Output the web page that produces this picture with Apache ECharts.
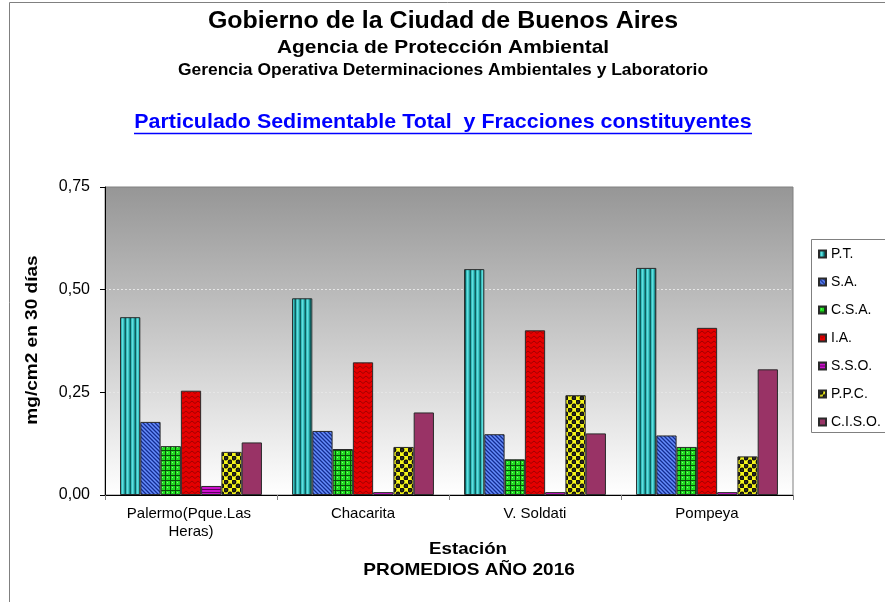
<!DOCTYPE html>
<html>
<head>
<meta charset="utf-8">
<script src="https://cdn.jsdelivr.net/npm/echarts@6/dist/echarts.min.js"></script>
<style>
html,body{margin:0;padding:0;background:#fff;}
#chart{width:885px;height:602px;}
</style>
</head>
<body>
<div id="chart"></div>
<script>
// ---- data ----
const categories = ['Palermo(Pque.Las Heras)', 'Chacarita', 'V. Soldati', 'Pompeya'];
const seriesNames = ['P.T.', 'S.A.', 'C.S.A.', 'I.A.', 'S.S.O.', 'P.P.C.', 'C.I.S.O.'];
const PT   = [0.433, 0.479, 0.550, 0.553];
const SA   = [0.178, 0.156, 0.148, 0.145];
const CSA  = [0.119, 0.112, 0.087, 0.117];
const IA   = [0.254, 0.323, 0.401, 0.407];
const SSO  = [0.022, 0.007, 0.007, 0.007];
const PPC  = [0.105, 0.117, 0.243, 0.094];
const CISO = [0.128, 0.201, 0.150, 0.306];
const yTicks = [0, 0.25, 0.5, 0.75];

const titleLines = [
  'Gobierno de la Ciudad de Buenos Aires',
  'Agencia de Protección Ambiental',
  'Gerencia Operativa Determinaciones Ambientales y Laboratorio'
];
const subTitle = 'Particulado Sedimentable Total  y Fracciones constituyentes';
const yName = 'mg/cm2 en 30 días';
const xName1 = 'Estación';
const xName2 = 'PROMEDIOS AÑO 2016';

// ---- patterns ----
function pat(w, h, draw) {
  const c = document.createElement('canvas');
  c.width = w; c.height = h;
  const g = c.getContext('2d');
  draw(g);
  return { image: c, repeat: 'repeat' };
}
const patPT = pat(5, 4, g => {
  const cols = ['#0c5e5e', '#36bdbd', '#62dede', '#3cc8c8', '#239090'];
  cols.forEach((c, i) => { g.fillStyle = c; g.fillRect(i, 0, 1, 4); });
});
const patSA = pat(4, 4, g => {
  g.fillStyle = '#3a5fd4'; g.fillRect(0, 0, 4, 4);
  g.fillStyle = '#1a2f88';
  for (let i = 0; i < 4; i++) g.fillRect(i, i, 1, 1);
  g.fillStyle = '#6d8ff2';
  for (let i = 0; i < 4; i++) g.fillRect((i + 2) % 4, i, 1, 1);
});
const patCSA = pat(5, 5, g => {
  g.fillStyle = '#22dd22'; g.fillRect(0, 0, 5, 5);
  g.fillStyle = '#0a4d0a'; g.fillRect(0, 0, 5, 1); g.fillRect(0, 0, 1, 5);
  g.fillStyle = '#7dff7d'; g.fillRect(2, 2, 1, 1);
});
const patIA = pat(6, 5, g => {
  g.fillStyle = '#e40000'; g.fillRect(0, 0, 6, 5);
  g.strokeStyle = '#a20000'; g.lineWidth = 1;
  g.beginPath(); g.moveTo(0, 1); g.lineTo(3, 3.5); g.lineTo(6, 1); g.stroke();
});
const patSSO = pat(3, 3, g => {
  g.fillStyle = '#cc11cc'; g.fillRect(0, 0, 3, 3);
  g.fillStyle = '#5c005c'; g.fillRect(0, 0, 3, 1);
});
const patPPC = pat(8, 8, g => {
  g.fillStyle = '#f4f41a'; g.fillRect(0, 0, 8, 8);
  g.fillStyle = '#111';
  [[2, 2], [6, 6]].forEach(p => { g.beginPath(); g.arc(p[0], p[1], 2.4, 0, Math.PI * 2); g.fill(); });
  g.fillStyle = '#777';
  [[1.5, 1.5], [5.5, 5.5]].forEach(p => { g.fillRect(p[0], p[1], 1, 1); });
});
const fills = [patPT, patSA, patCSA, patIA, patSSO, patPPC, '#993366'];
const data = [PT, SA, CSA, IA, SSO, PPC, CISO];

const FONT = 'Liberation Sans, Arial, sans-serif';

const chart = echarts.init(document.getElementById('chart'), null, { renderer: 'canvas' });

const series = seriesNames.map((n, i) => ({
  name: n,
  type: 'bar',
  data: data[i],
  barGap: '0%',
  barCategoryGap: '17.5%',
  itemStyle: { color: fills[i], borderColor: '#2a2a2a', borderWidth: 1 },
  emphasis: { disabled: true }
}));

function txt(x, y, text, font, sx, extra) {
  return Object.assign({
    type: 'text', x: x, y: y, scaleX: sx, silent: true,
    style: { text: text, font: font, fill: '#000', textAlign: 'center', textVerticalAlign: 'middle' }
  }, extra || {});
}

chart.setOption({
  animation: false,
  backgroundColor: '#fff',
  textStyle: { fontFamily: FONT },
  grid: {
    left: 105, right: 92, top: 187, bottom: 107,
    show: true,
    borderColor: '#808080', borderWidth: 1,
    backgroundColor: {
      type: 'linear', x: 0, y: 0, x2: 0, y2: 1,
      colorStops: [{ offset: 0, color: '#969696' }, { offset: 1, color: '#ffffff' }]
    }
  },
  legend: {
    orient: 'vertical',
    left: 818, top: 246,
    padding: 0,
    itemWidth: 7, itemHeight: 7,
    itemGap: 12,
    icon: 'rect',
    textStyle: { fontFamily: FONT, fontSize: 14, color: '#000', lineHeight: 16 },
    data: seriesNames
  },
  xAxis: {
    type: 'category',
    data: categories,
    axisLine: { lineStyle: { color: '#000', width: 1 } },
    axisTick: { show: true, length: 5, lineStyle: { color: '#808080' } },
    axisLabel: {
      color: '#000', fontSize: 15, fontFamily: FONT, margin: 10, lineHeight: 18,
      width: 150, overflow: 'break', interval: 0
    }
  },
  yAxis: {
    type: 'value',
    min: yTicks[0], max: yTicks[yTicks.length - 1], interval: 0.25,
    axisLine: { show: true, lineStyle: { color: '#000', width: 1 } },
    axisTick: { show: true, length: 5, lineStyle: { color: '#000' } },
    axisLabel: {
      color: '#000', fontSize: 16, fontFamily: FONT, margin: 15,
      formatter: v => v.toFixed(2).replace('.', ',')
    },
    splitLine: { show: true, showMinLine: false, showMaxLine: false, lineStyle: { color: '#e6e6e6', type: [2, 2], width: 1 } }
  },
  series: series,
  graphic: [
    { type: 'rect', silent: true, shape: { x: 9.5, y: 2.5, width: 900, height: 640 },
      style: { fill: 'none', stroke: '#808080', lineWidth: 1 } },
    { type: 'rect', silent: true, shape: { x: 811.5, y: 239.5, width: 100, height: 193 },
      style: { fill: 'none', stroke: '#808080', lineWidth: 1 } },
    txt(443, 21, titleLines[0], 'bold 24px ' + FONT, 1.04),
    txt(443, 48, titleLines[1], 'bold 19px ' + FONT, 1.10),
    txt(443, 71, titleLines[2], 'bold 16px ' + FONT, 1.09),
    { type: 'text', x: 443, y: 122, scaleX: 1.02, silent: true,
      style: { text: subTitle, font: 'bold 21px ' + FONT, fill: '#0000ff', textAlign: 'center', textVerticalAlign: 'middle' } },
    { type: 'line', silent: true, shape: { x1: 134, y1: 133.5, x2: 752, y2: 133.5 }, style: { stroke: '#0000ff', lineWidth: 1.5 } },
    txt(32, 340, yName, 'bold 17px ' + FONT, 1.12, { rotation: Math.PI / 2 }),
    txt(468, 549, xName1, 'bold 17px ' + FONT, 1.1),
    txt(469, 570, xName2, 'bold 17px ' + FONT, 1.12)
  ]
});
</script>
</body>
</html>
